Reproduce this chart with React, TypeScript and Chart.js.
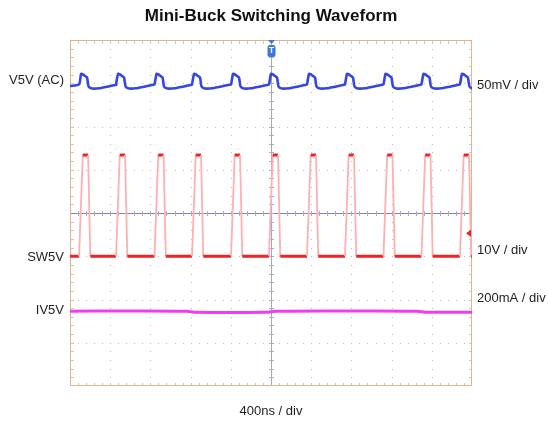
import React, { useEffect, useRef } from "react";
import { Chart, registerables } from "chart.js";

Chart.register(...registerables);

// ---- data ----
// time axis: 400 ns/div, 10 divisions
const timeRangeNs = [0, 4000];
// switching node: start time (ns) of every pulse
const pulseStartNs = [90, 458, 841, 1214, 1602, 1980, 2358, 2736, 3119, 3497, 3880];
// SW5V pulse shape relative to the pulse start
const swOffsetNs = [0, 37, 90, 112];
const swLevelV = [0, 23.4, 23.4, 0];
// V5V (AC) ripple shape relative to the pulse start
const v5vStartMv = -3.2;
const v5vOffsetNs = [0, 20, 40, 60, 80, 95, 130, 200, 300, 370];
const v5vLevelMv = [-1.4, 10.7, 10.1, 8.4, 6.6, -3.8, -6.1, -5.8, -3.5, -1.8];
// IV5V current trace
const ivTimeNs = [0, 500, 1164, 1250, 1950, 2050, 2800, 3453, 3552, 4000];
const ivCurrentMa = [46, 47, 46, 41, 41, 46, 47, 46, 41, 41];

// channel scale ranges (8 divisions each)
const v5vRangeMv = [-350, 50]; // 50 mV/div
const swRangeV = [-30, 50]; // 10 V/div
const ivRangeMa = [-300, 1300]; // 200 mA/div

// labels
const titleText = "Mini-Buck Switching Waveform";
const timeLabel = "400ns / div";
const leftLabels = [
  { text: "V5V (AC)", div: 7.07 },
  { text: "SW5V", div: 2.97 },
  { text: "IV5V", div: 1.75 },
];
const rightLabels = [
  { text: "50mV / div", div: 6.95 },
  { text: "10V / div", div: 3.13 },
  { text: "200mA / div", div: 2.03 },
];

const FONT = '"Liberation Sans", Arial, sans-serif';

function buildSw() {
  const pts: { x: number; y: number }[] = [{ x: timeRangeNs[0], y: 0 }];
  pulseStartNs.forEach((t) => {
    swOffsetNs.forEach((o, i) => pts.push({ x: t + o, y: swLevelV[i] }));
  });
  pts.push({ x: timeRangeNs[1], y: 0 });
  return pts;
}

function buildV5v() {
  const pts: { x: number; y: number }[] = [{ x: timeRangeNs[0], y: v5vStartMv }];
  pulseStartNs.forEach((t) => {
    v5vOffsetNs.forEach((o, i) => pts.push({ x: t + o, y: v5vLevelMv[i] }));
  });
  return pts;
}

function buildIv() {
  return ivTimeNs.map((t, i) => ({ x: t, y: ivCurrentMa[i] }));
}

const scopePlugin = {
  id: "scopeDecor",
  beforeDatasetsDraw(chart: any) {
    const ctx = chart.ctx as CanvasRenderingContext2D;
    const xs = chart.scales.x;
    const yd = chart.scales.yDiv;
    const span = timeRangeNs[1] - timeRangeNs[0];
    const xAt = (d: number) => xs.getPixelForValue(timeRangeNs[0] + (d * span) / 10);
    const yAt = (d: number) => yd.getPixelForValue(d);
    const { left, right, top, bottom } = chart.chartArea;
    ctx.save();
    // dotted grid
    ctx.fillStyle = "#bdbdbd";
    for (let i = 1; i < 10; i++) {
      if (i === 5) continue;
      const x = Math.round(xAt(i));
      for (let j = 1; j < 40; j++) {
        ctx.fillRect(x, Math.round(yAt(j / 5)), 1, 1);
      }
    }
    for (let j = 1; j < 8; j++) {
      if (j === 4) continue;
      const y = Math.round(yAt(j));
      for (let i = 1; i < 50; i++) {
        ctx.fillRect(Math.round(xAt(i / 5)), y, 1, 1);
      }
    }
    // minor ticks on borders
    ctx.fillStyle = "#c9c9c9";
    for (let i = 1; i < 50; i++) {
      const x = Math.round(xAt(i / 5));
      ctx.fillRect(x, top + 1, 1, 3);
      ctx.fillRect(x, bottom - 3, 1, 3);
    }
    for (let j = 1; j < 40; j++) {
      const y = Math.round(yAt(j / 5));
      ctx.fillRect(left + 1, y, 3, 1);
      ctx.fillRect(right - 3, y, 3, 1);
    }
    // centre lines
    const cx = Math.round(xAt(5)) + 0.5;
    const cy = Math.round(yAt(4)) + 0.5;
    ctx.lineWidth = 1;
    ctx.strokeStyle = "#a2a8c2";
    ctx.beginPath();
    ctx.moveTo(cx, top);
    ctx.lineTo(cx, bottom);
    ctx.stroke();
    ctx.strokeStyle = "#7e86a8";
    ctx.beginPath();
    ctx.moveTo(left, cy);
    ctx.lineTo(right, cy);
    ctx.stroke();
    ctx.fillStyle = "#a8adc4";
    for (let i = 1; i < 50; i++) {
      ctx.fillRect(Math.round(xAt(i / 5)), cy - 2.5, 1, 5);
    }
    for (let j = 1; j < 40; j++) {
      ctx.fillRect(cx - 2.5, Math.round(yAt(j / 5)), 5, 1);
    }
    // border
    ctx.strokeStyle = "#e2b487";
    ctx.strokeRect(left + 0.5, top + 0.5, right - left - 1, bottom - top - 1);
    ctx.restore();
  },
  afterDatasetsDraw(chart: any) {
    const ctx = chart.ctx as CanvasRenderingContext2D;
    const xs = chart.scales.x;
    const yd = chart.scales.yDiv;
    const { left, right, top } = chart.chartArea;
    const cx = Math.round(xs.getPixelForValue((timeRangeNs[0] + timeRangeNs[1]) / 2)) + 0.5;
    ctx.save();
    // trigger position marker
    ctx.fillStyle = "#3a76dc";
    ctx.beginPath();
    ctx.moveTo(cx - 3.5, top);
    ctx.lineTo(cx + 3.5, top);
    ctx.lineTo(cx, top + 4);
    ctx.closePath();
    ctx.fill();
    ctx.beginPath();
    (ctx as any).roundRect(cx - 4, top + 5, 8, 12, 2.5);
    ctx.fill();
    ctx.fillStyle = "#ffffff";
    ctx.font = "bold 9px " + FONT;
    ctx.textAlign = "center";
    ctx.textBaseline = "middle";
    ctx.fillText("T", cx, top + 11);
    // trigger level arrow (right)
    const ay = yd.getPixelForValue(3.53);
    ctx.fillStyle = "#e82020";
    ctx.beginPath();
    ctx.moveTo(right - 6, ay);
    ctx.lineTo(right - 1, ay - 3.5);
    ctx.lineTo(right - 1, ay + 3.5);
    ctx.closePath();
    ctx.fill();
    // channel labels
    ctx.font = "13px " + FONT;
    ctx.fillStyle = "#1e1e1e";
    ctx.textBaseline = "middle";
    ctx.textAlign = "right";
    leftLabels.forEach((l) => ctx.fillText(l.text, left - 6, yd.getPixelForValue(l.div)));
    ctx.textAlign = "left";
    rightLabels.forEach((l) => ctx.fillText(l.text, right + 5, yd.getPixelForValue(l.div)));
    ctx.restore();
  },
};

export default function App() {
  const ref = useRef<HTMLCanvasElement | null>(null);
  useEffect(() => {
    if (!ref.current) return;
    const chart = new Chart(ref.current, {
      type: "line",
      data: {
        datasets: [
          {
            label: "IV5V",
            data: buildIv(),
            yAxisID: "yI",
            borderColor: "#f23cf2",
            borderWidth: 3,
            pointRadius: 0,
            tension: 0.3,
            order: 3,
          },
          {
            label: "SW5V",
            data: buildSw(),
            yAxisID: "ySw",
            borderColor: "#ee2222",
            borderWidth: 3,
            pointRadius: 0,
            tension: 0,
            order: 2,
            segment: {
              borderColor: (c: any) =>
                Math.abs(c.p0.parsed.y - c.p1.parsed.y) > 1 ? "#ffb0b0" : "#ee2222",
              borderWidth: (c: any) =>
                Math.abs(c.p0.parsed.y - c.p1.parsed.y) > 1 ? 1.8 : 3,
            },
          },
          {
            label: "V5V",
            data: buildV5v(),
            yAxisID: "yV",
            borderColor: "#3546e4",
            borderWidth: 2.6,
            pointRadius: 0,
            tension: 0.2,
            order: 1,
          },
        ],
      },
      options: {
        responsive: false,
        animation: false,
        parsing: false as any,
        layout: { padding: { left: 70, right: 76, top: 0, bottom: 0 } },
        scales: {
          x: { type: "linear", min: timeRangeNs[0], max: timeRangeNs[1], display: false },
          yV: { type: "linear", min: v5vRangeMv[0], max: v5vRangeMv[1], display: false },
          ySw: { type: "linear", min: swRangeV[0], max: swRangeV[1], display: false },
          yI: { type: "linear", min: ivRangeMa[0], max: ivRangeMa[1], display: false },
          yDiv: { type: "linear", min: 0, max: 8, display: false },
        },
        plugins: {
          legend: { display: false },
          tooltip: { enabled: false },
          title: {
            display: true,
            text: titleText,
            color: "#111111",
            font: { family: FONT, size: 17, weight: "bold" },
            padding: { top: 6.5, bottom: 13.1 },
          },
          subtitle: {
            display: true,
            position: "bottom",
            text: timeLabel,
            color: "#1e1e1e",
            font: { family: FONT, size: 13 },
            padding: { top: 18, bottom: 4.4 },
          },
        },
      },
      plugins: [scopePlugin],
    });
    return () => chart.destroy();
  }, []);
  return (
    <div style={{ position: "fixed", left: 0, top: 0, width: 548, height: 424, background: "#fff" }}>
      <canvas ref={ref} width={548} height={424} />
    </div>
  );
}
